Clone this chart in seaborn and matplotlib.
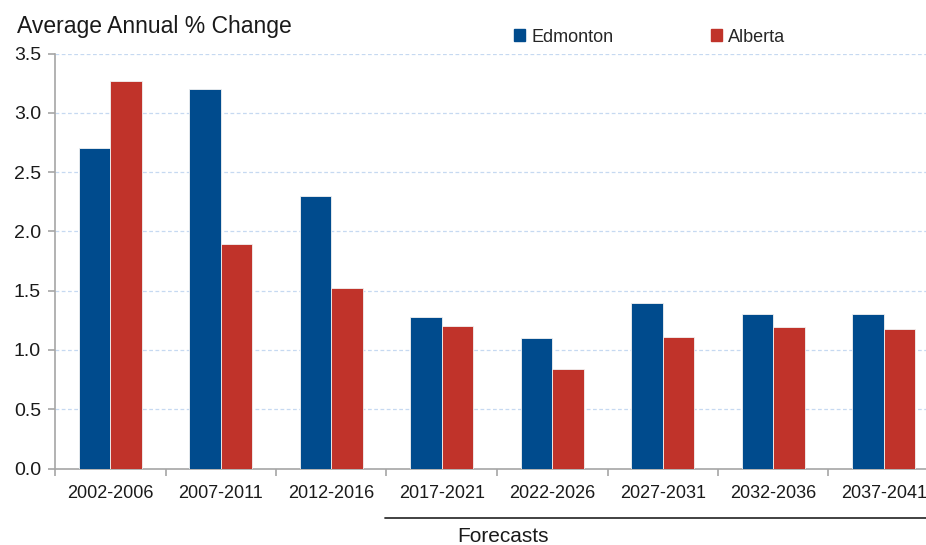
import matplotlib
matplotlib.use("Agg")
import matplotlib.pyplot as plt
from matplotlib.lines import Line2D
import seaborn as sns
import pandas as pd

periods = ["2002-2006", "2007-2011", "2012-2016", "2017-2021",
           "2022-2026", "2027-2031", "2032-2036", "2037-2041"]
edmonton = [2.70, 3.20, 2.30, 1.28, 1.10, 1.40, 1.30, 1.30]
alberta = [3.27, 1.89, 1.52, 1.20, 0.84, 1.11, 1.19, 1.18]
series_names = ["Edmonton", "Alberta"]
y_ticks = [0.0, 0.5, 1.0, 1.5, 2.0, 2.5, 3.0, 3.5]
y_label = "Average Annual % Change"
forecast_label = "Forecasts"

colors = {"Edmonton": "#004b8d", "Alberta": "#c0332a"}

df = pd.DataFrame({
    "Period": periods * 2,
    "Region": [series_names[0]] * len(periods) + [series_names[1]] * len(periods),
    "Change": edmonton + alberta,
})

sns.set_theme(style="white")
plt.rcParams["font.family"] = ["Liberation Sans", "DejaVu Sans"]

fig = plt.figure(figsize=(9.26, 5.45), dpi=100)
# axes run past the right edge of the figure so the last category is cut off
ax = fig.add_axes([55 / 926, 1 - 468.5 / 545, 884 / 926, 415 / 545])

sns.barplot(data=df, x="Period", y="Change", hue="Region", order=periods,
            hue_order=series_names, palette=colors, saturation=1,
            width=0.57, gap=0, edgecolor="#f2f2f2", linewidth=0.6, ax=ax,
            legend=False, zorder=3)

ax.set_ylim(0, 3.5)
ax.set_xlim(-0.5, len(periods) - 0.5)
ax.set_yticks(y_ticks)
ax.set_yticklabels([f"{v:.1f}" for v in y_ticks])
ax.set_xlabel("")
ax.set_ylabel("")

ax.grid(axis="y", color="#c6d9f1", linestyle=(0, (3, 2)), linewidth=0.9, zorder=0)
ax.set_axisbelow(True)
for side in ["top", "right"]:
    ax.spines[side].set_visible(False)
for side in ["left", "bottom"]:
    ax.spines[side].set_color("#a6a6a6")
    ax.spines[side].set_linewidth(1.2)

ax.tick_params(axis="y", which="major", direction="out", length=5, width=1.2,
               color="#a6a6a6", labelsize=14, pad=5, left=True)
ax.tick_params(axis="x", which="major", length=0, labelsize=13, pad=12)
# category boundary ticks on the x axis
ax.set_xticks([i - 0.5 for i in range(len(periods) + 1)], minor=True)
ax.tick_params(axis="x", which="minor", direction="out", length=5, width=1.2,
               color="#a6a6a6", bottom=True)
for lbl in ax.get_xticklabels() + ax.get_yticklabels():
    lbl.set_color("#1a1a1a")

fig.text(17 / 926, 1 - 26 / 545, y_label, fontsize=16.5, color="#1a1a1a",
         ha="left", va="center")

handles = [plt.Rectangle((0, 0), 1, 1, color=colors[n]) for n in series_names]
fig.legend(handles, series_names, loc="center left",
           bbox_to_anchor=(514 / 926, 1 - 37 / 545), ncol=2, frameon=False,
           fontsize=13, handlelength=0.6, handleheight=0.6,
           handletextpad=0.35, columnspacing=5.4, borderaxespad=0,
           borderpad=0)

fig.add_artist(Line2D([385 / 926, 1.0], [1 - 517.5 / 545] * 2,
                      transform=fig.transFigure, color="#333333", linewidth=1.3))
fig.text(503 / 926, 1 - 537 / 545, forecast_label, fontsize=15,
         color="#1a1a1a", ha="center", va="center")

fig.savefig("out.png", dpi=100)
